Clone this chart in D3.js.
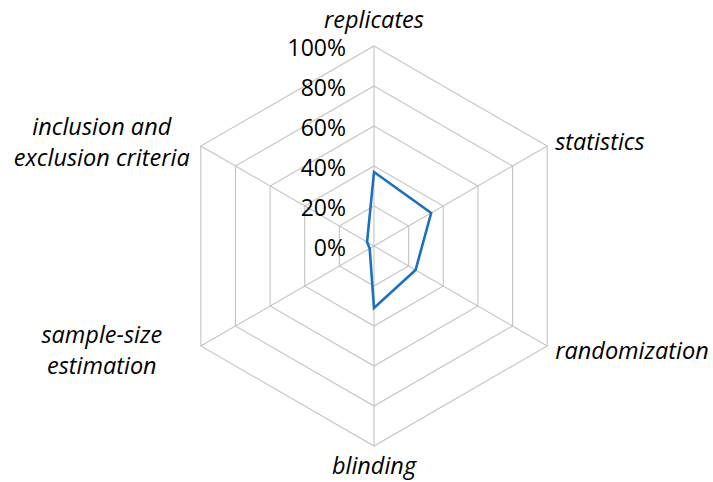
<!DOCTYPE html>
<html><head><meta charset="utf-8">
<script src="https://cdn.jsdelivr.net/npm/d3@7"></script>
<style>body{margin:0;background:#fff}svg{display:block}</style>
</head><body>
<script>
const categories = ["replicates","statistics","randomization","blinding","sample-size estimation","inclusion and exclusion criteria"];
const labelLines = [["replicates"],["statistics"],["randomization"],["blinding"],["sample-size","estimation"],["inclusion and","exclusion criteria"]];
const values = [0.37, 0.33, 0.24, 0.31, 0.025, 0.04];
const ticks = [0, 0.2, 0.4, 0.6, 0.8, 1.0];
const tickLabels = ["0%","20%","40%","60%","80%","100%"];

const W = 713, H = 482, cx = 374, cy = 246, R = 200;
const svg = d3.select("body").append("svg").attr("width", W).attr("height", H);
const r = d3.scaleLinear().domain([0, 1]).range([0, R]);
const ang = d3.scaleLinear().domain([0, categories.length]).range([0, 2 * Math.PI]);
const pt = (i, v) => [cx + r(v) * Math.sin(ang(i)), cy - r(v) * Math.cos(ang(i))];

const g = svg.append("g");
ticks.filter(t => t > 0).forEach(t => {
  g.append("path")
    .attr("d", d3.line()(categories.map((c, i) => pt(i, t))) + "Z")
    .attr("fill", "none").attr("stroke", "#c4c4c4").attr("stroke-width", 1.1);
});
categories.forEach((c, i) => {
  const p = pt(i, 1);
  g.append("line").attr("x1", cx).attr("y1", cy).attr("x2", p[0]).attr("y2", p[1])
    .attr("stroke", "#c4c4c4").attr("stroke-width", 1.1);
});
g.append("path")
  .attr("d", d3.line()(values.map((v, i) => pt(i, v))) + "Z")
  .attr("fill", "none").attr("stroke", "#1f6fc0").attr("stroke-width", 2.6)
  .attr("stroke-linejoin", "miter");

ticks.forEach((t, k) => {
  svg.append("text").attr("x", cx - 28).attr("y", cy - r(t) + 1)
    .attr("text-anchor", "end").attr("dominant-baseline", "central")
    .attr("font-family", "Open Sans").attr("font-size", 23).attr("fill", "#000")
    .text(tickLabels[k]);
});

const lineH = 31;
labelLines.forEach((lines, i) => {
  const p = pt(i, 1);
  const s = Math.sin(ang(i));
  let x, anchor, yc;
  if (Math.abs(s) < 0.01) {
    x = p[0]; anchor = "middle";
    yc = p[1] + (Math.cos(ang(i)) > 0 ? -27 : 19);
  } else if (s > 0) {
    x = p[0] + 8; anchor = "start"; yc = p[1] + (Math.cos(ang(i)) > 0 ? -5 : 4);
  } else {
    x = p[0] - 99; anchor = "middle"; yc = p[1] + (Math.cos(ang(i)) > 0 ? -5 : 3);
  }
  const t = svg.append("text").attr("text-anchor", anchor)
    .attr("font-family", "Open Sans").attr("font-style", "italic")
    .attr("font-size", 23.5).attr("fill", "#000");
  lines.forEach((ln, j) => {
    t.append("tspan").attr("x", x)
      .attr("y", yc + (j - (lines.length - 1) / 2) * lineH)
      .attr("dominant-baseline", "central").text(ln);
  });
});
</script>
</body></html>
